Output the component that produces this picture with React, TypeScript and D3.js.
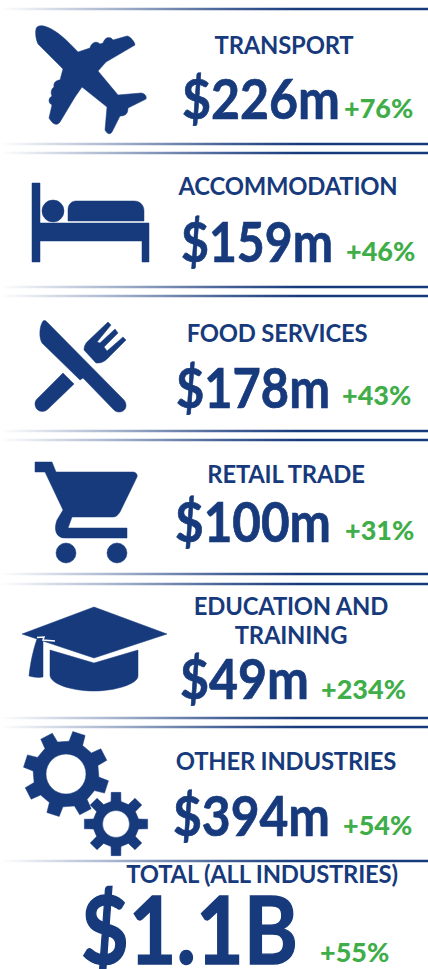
import * as React from "react";
import * as d3 from "d3";

const categories = ["TRANSPORT", "ACCOMMODATION", "FOOD SERVICES", "RETAIL TRADE", "EDUCATION AND|TRAINING", "OTHER INDUSTRIES", "TOTAL (ALL INDUSTRIES)"];
const spend = ["$226m", "$159m", "$178m", "$100m", "$49m", "$394m", "$1.1B"];
const growth = ["+76%", "+46%", "+43%", "+31%", "+234%", "+54%", "+55%"];

// where things sit on the page
const labelX = [284, 288, 277, 286, 291, 286, 262];
const labelY = [54, 195, 342, 483, 615, 770, 883];
const valueX = [182, 181, 176, 175, 180, 173, 81];
const valueY = [119, 262, 408, 542, 699, 836, 964];
const valueW = [158, 152, 154, 156, 129, 157, 217];
const growthX = [344, 346, 342, 345, 321, 343, 320];
const growthY = [118, 261, 405, 540, 699, 835, 962];
const ruleY = [9, 144, 153, 287, 296, 431, 440, 574, 584, 718, 727, 861];

const BLUE = "#173a7c";
const GREEN = "#3fae49";
const FONT = "Lato, 'Open Sans', sans-serif";

const planePath = "M36 29 C37 25 42 25 47 27 C56 30 68 41 78 52 L90 48 C91 43 96 40 100 44 L103 43 C105 37 110 36 113 40 L127 36 C130 36 135 42 135 45 L106 62 L98 71 L118 95 L141 93 C145 93 147 97 146 99 L128 108 C128 115 124 116 120 116 L112 132 C110 135 107 134 105 130 L107 107 L82 87 L75 97 L60 122 C57 126 53 125 49 118 L52 105 C48 103 48 98 52 96 C50 92 52 88 54 87 C53 82 57 80 60 80 L63 69 L38 44 C36 40 35 33 36 29 Z";
const bedPath = "M32 183 H40 V223 H149 V262 H142 V241 H40 V262 H32 Z M68 221 V210 C68 204 72 201 76 201 H134 C140 201 144 205 144 211 V221 Z M64 211 A11 11 0 1 1 42 211 A11 11 0 1 1 64 211 Z";
const knifePath = "M43 321 C45 320 46 321 47 322 L124 400 C128 405 126 412 119 412 C116 412 115 411 113 409 L83 378 L80 380 L42 343 C39 338 39 327 43 321 Z M63 373 L74 384 L48 409 C43 414 35 411 35 404 C35 401 36 400 38 398 Z";
const forkPath = "M108 322 L111 325 L97 342 L100 343 L115 329 L118 333 L104 347 L107 351 L123 337 L126 340 L108 358 C103 363 100 363 96 363 L84 350 C84 347 85 344 87 342 Z";
const cartPath = "M35 462 H52 L56 472 H133 C136 472 138 475 137 477 L120 512 C118 515 116 517 113 517 H72 L68 528 H127 V538 H65 C57 538 53 531 57 520 L63 510 L45 472 H35 Z M76 553 A10 10 0 1 1 56 553 A10 10 0 1 1 76 553 Z M127 553 A10 10 0 1 1 107 553 A10 10 0 1 1 127 553 Z";
const capPath = "M94 607 L167 634 L94 658 L22 634 Z";
const capBasePath = "M50 650 L94 663 L138 650 V676 C138 684 115 691 94 691 C72 691 50 684 50 675 Z";
const tasselPath = "M37 639 L43 639 L43 677 C38 678 33 677 29 676 C30 665 33 650 37 639 Z";

// gear outline, teeth stepped round the circle
function gearPath(cx: number, cy: number, inner: number, outer: number, hole: number, teeth: number, start: number) {
  const p = d3.path();
  const step = (Math.PI * 2) / teeth;
  d3.range(teeth).forEach((i) => {
    const a = start + i * step;
    const w = step * 0.24;
    const pt = (r: number, t: number): [number, number] => [cx + r * Math.cos(t), cy + r * Math.sin(t)];
    const [x0, y0] = pt(inner, a - w * 1.15);
    if (i === 0) p.moveTo(x0, y0);
    else p.lineTo(x0, y0);
    p.lineTo(...pt(outer, a - w * 0.8));
    p.lineTo(...pt(outer, a + w * 0.8));
    p.lineTo(...pt(inner, a + w * 1.15));
  });
  p.closePath();
  p.moveTo(cx + hole, cy);
  p.arc(cx, cy, hole, 0, Math.PI * 2, true);
  p.closePath();
  return p.toString();
}

export default function App() {
  const ref = React.useRef<SVGSVGElement>(null);

  React.useEffect(() => {
    const svg = d3.select(ref.current);
    svg.selectAll("*").remove();

    const grad = svg.append("defs").append("linearGradient")
      .attr("id", "rule")
      .attr("gradientUnits", "userSpaceOnUse")
      .attr("x1", 0).attr("x2", 300).attr("y1", 0).attr("y2", 0);
    grad.append("stop").attr("offset", 0).attr("stop-color", BLUE).attr("stop-opacity", 0);
    grad.append("stop").attr("offset", 0.35).attr("stop-color", BLUE).attr("stop-opacity", 0.35);
    grad.append("stop").attr("offset", 0.75).attr("stop-color", BLUE).attr("stop-opacity", 0.8);
    grad.append("stop").attr("offset", 1).attr("stop-color", BLUE);

    svg.append("g").selectAll("rect")
      .data(ruleY)
      .enter().append("rect")
      .attr("x", 0)
      .attr("y", d => d - 1.25)
      .attr("width", 428)
      .attr("height", 2.5)
      .attr("fill", "url(#rule)");

    const icons = [planePath, bedPath, knifePath, forkPath, cartPath, capPath, capBasePath, tasselPath,
      gearPath(66, 774, 33, 43, 20, 8, 0.31),
      gearPath(116, 824, 23, 32, 13.5, 8, 0)];
    svg.append("g").selectAll("path")
      .data(icons)
      .enter().append("path")
      .attr("d", d => d)
      .attr("fill", BLUE)
      .attr("stroke", BLUE)
      .attr("stroke-width", 0.5)
      .attr("stroke-linejoin", "round")
      .attr("fill-rule", "evenodd");

    // white nick where the tassel cord leaves the board
    svg.append("path")
      .attr("d", "M37 637.5 L44 637 L43 640 L55 641")
      .attr("fill", "none")
      .attr("stroke", "#fff")
      .attr("stroke-width", 1.5);

    const rows = svg.append("g").attr("font-family", FONT).attr("font-weight", 700);

    categories.forEach((c, i) => {
      c.split("|").forEach((line, j) => {
        rows.append("text")
          .attr("x", labelX[i])
          .attr("y", labelY[i] + j * 29)
          .attr("text-anchor", "middle")
          .attr("font-size", 23.8)
          .attr("letter-spacing", -0.2)
          .attr("fill", BLUE)
          .text(line);
      });
      rows.append("text")
        .attr("x", valueX[i])
        .attr("y", valueY[i])
        .attr("font-size", i === 6 ? 93 : 55)
        .attr("textLength", valueW[i])
        .attr("lengthAdjust", "spacingAndGlyphs")
        .attr("fill", BLUE)
        .attr("stroke", BLUE)
        .attr("stroke-width", i === 6 ? 1.4 : 0.7)
        .text(spend[i]);
      rows.append("text")
        .attr("x", growthX[i])
        .attr("y", growthY[i])
        .attr("font-size", 27)
        .attr("font-weight", 900)
        .attr("fill", GREEN)
        .text(growth[i]);
    });
  }, []);

  return <svg ref={ref} width={428} height={969} style={{position: "absolute", left: 0, top: 0}} />;
}
